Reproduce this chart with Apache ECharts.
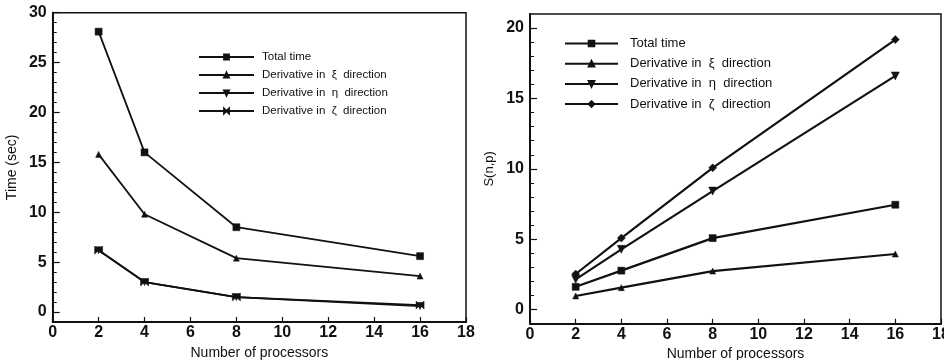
<!DOCTYPE html>
<html>
<head>
<meta charset="utf-8">
<script src="https://cdn.jsdelivr.net/npm/echarts@6/dist/echarts.min.js"></script>
<style>
  html, body { margin: 0; padding: 0; background: #fff; }
  #chart { width: 944px; height: 360px; }
</style>
</head>
<body>
<div id="chart"></div>
<script>
// Processor counts (x values shared by both panels)
const processors = [2, 4, 8, 16];

// Left panel: wall-clock time in seconds
const timeTotal = [28.1, 16.0, 8.5, 5.6];
const timeXi    = [15.8, 9.8, 5.4, 3.6];
const timeEta   = [6.2, 3.0, 1.5, 0.6];
const timeZeta  = [6.2, 3.0, 1.5, 0.7];

// Right panel: speedup S(n,p)
const speedTotal = [1.62, 2.77, 5.08, 7.45];
const speedXi    = [0.97, 1.56, 2.74, 3.95];
const speedEta   = [2.15, 4.28, 8.42, 16.6];
const speedZeta  = [2.53, 5.08, 10.07, 19.18];

// Legend captions
const labelTotal = 'Total time';
const labelXi    = 'Derivative in  \u03be  direction';
const labelEta   = 'Derivative in  \u03b7  direction';
const labelZeta  = 'Derivative in  \u03b6  direction';

// Axis tick values
const xTicks       = [0, 2, 4, 6, 8, 10, 12, 14, 16, 18];
const timeMajor    = [0, 5, 10, 15, 20, 25, 30];
const speedMajor   = [0, 5, 10, 15, 20];
const timeMinor    = Array.from({ length: 31 }, (_, i) => i);
const speedMinor   = Array.from({ length: 21 }, (_, i) => i);

const ink = '#111';
const FONT = '"Liberation Sans", Arial, Helvetica, sans-serif';

const captions = {
  't-total': labelTotal, 't-xi': labelXi, 't-eta': labelEta, 't-zeta': labelZeta,
  's-total': labelTotal, 's-xi': labelXi, 's-eta': labelEta, 's-zeta': labelZeta
};

const downTri = 'path://M0,0L10,0L5,10Z';
const bowtie  = 'path://M0,0L10,10L10,0L0,10Z';
const diamond = 'path://M5,0L10,5L5,10L0,5Z';

function pairs(ys) { return processors.map((x, i) => [x, ys[i]]); }

function xAxisDef(gridIndex) {
  return {
    type: 'value', gridIndex, min: 0, max: 18, interval: 2,
    name: 'Number of processors', nameLocation: 'middle', nameGap: 16,
    nameTextStyle: { color: ink, fontFamily: FONT, fontSize: 14 },
    axisLine: { show: true, onZero: false, lineStyle: { color: ink, width: 2 } },
    axisTick: { show: true, inside: true, length: 5, lineStyle: { color: ink, width: 1.2 } },
    axisLabel: { color: ink, fontFamily: FONT, fontWeight: 'bold', fontSize: 16, margin: 3,
                 customValues: xTicks, showMinLabel: true, showMaxLabel: true,
                 alignMinLabel: 'center', alignMaxLabel: 'center', hideOverlap: false },
    splitLine: { show: false }
  };
}

function yAxisMain(gridIndex, min, max, major, name, nameSize) {
  return {
    type: 'value', gridIndex, min, max, position: 'left',
    name, nameLocation: 'middle', nameGap: 34,
    nameTextStyle: { color: ink, fontFamily: FONT, fontSize: nameSize },
    axisLine: { show: true, onZero: false, lineStyle: { color: ink, width: 2 } },
    axisTick: { show: true, inside: true, length: 7, customValues: major,
                lineStyle: { color: ink, width: 1.2 } },
    axisLabel: { color: ink, fontFamily: FONT, fontWeight: 'bold', fontSize: 16, margin: 6,
                 customValues: major },
    splitLine: { show: false }
  };
}

function yAxisMinor(gridIndex, min, max, minor) {
  return {
    type: 'value', gridIndex, min, max, position: 'left',
    axisLine: { show: false },
    axisTick: { show: true, inside: true, length: 4, customValues: minor,
                lineStyle: { color: ink, width: 1 } },
    axisLabel: { show: false },
    splitLine: { show: false }
  };
}

function lineSeries(name, xAxisIndex, yAxisIndex, ys, symbol, size, width) {
  return {
    type: 'line', name, xAxisIndex, yAxisIndex, data: pairs(ys),
    symbol, symbolSize: size, showAllSymbol: true,
    lineStyle: { color: ink, width },
    itemStyle: { color: ink, borderColor: ink, borderWidth: 0.5 },
    emphasis: { disabled: true }, animation: false
  };
}

const chart = echarts.init(document.getElementById('chart'), null, { renderer: 'canvas' });

chart.setOption({
  backgroundColor: '#fff',
  animation: false,
  grid: [
    { left: 52.7, right: 478, top: 12.7, bottom: 38, show: true, borderColor: ink, borderWidth: 1.5,
      containLabel: false, outerBoundsMode: 'none' },
    { left: 530, right: 3, top: 14, bottom: 36.3, show: true, borderColor: ink, borderWidth: 1.5,
      containLabel: false, outerBoundsMode: 'none' }
  ],
  legend: [
    {
      orient: 'vertical', left: 193, top: 46,
      itemWidth: 55, itemHeight: 6, itemGap: 6,
      data: ['t-total', 't-xi', 't-eta', 't-zeta'],
      formatter: n => captions[n],
      textStyle: { color: ink, fontFamily: FONT, fontSize: 11.5, lineHeight: 12, padding: [0, 0, 0, 3] },
      selectedMode: false
    },
    {
      orient: 'vertical', left: 559, top: 31.5,
      itemWidth: 53, itemHeight: 7, itemGap: 6.2,
      data: ['s-total', 's-xi', 's-eta', 's-zeta'],
      formatter: n => captions[n],
      textStyle: { color: ink, fontFamily: FONT, fontSize: 13, lineHeight: 14, padding: [0, 0, 0, 7] },
      selectedMode: false
    }
  ],
  xAxis: [xAxisDef(0), xAxisDef(1)],
  yAxis: [
    yAxisMain(0, -1, 30, timeMajor, 'Time (sec)', 14),
    yAxisMinor(0, -1, 30, timeMinor),
    yAxisMain(1, -1, 21, speedMajor, 'S(n,p)', 13),
    yAxisMinor(1, -1, 21, speedMinor)
  ],
  series: [
    lineSeries('t-total', 0, 0, timeTotal, 'rect', 7, 1.8),
    lineSeries('t-xi',    0, 0, timeXi,    'triangle', 6, 1.8),
    lineSeries('t-eta',   0, 0, timeEta,   downTri, 7, 1.8),
    lineSeries('t-zeta',  0, 0, timeZeta,  bowtie, 8, 1.8),
    lineSeries('s-total', 1, 2, speedTotal, 'rect', 7, 2.2),
    lineSeries('s-xi',    1, 2, speedXi,    'triangle', 6, 2.2),
    lineSeries('s-eta',   1, 2, speedEta,   downTri, 8, 2.2),
    lineSeries('s-zeta',  1, 2, speedZeta,  diamond, 8, 2.2)
  ]
});
</script>
</body>
</html>
